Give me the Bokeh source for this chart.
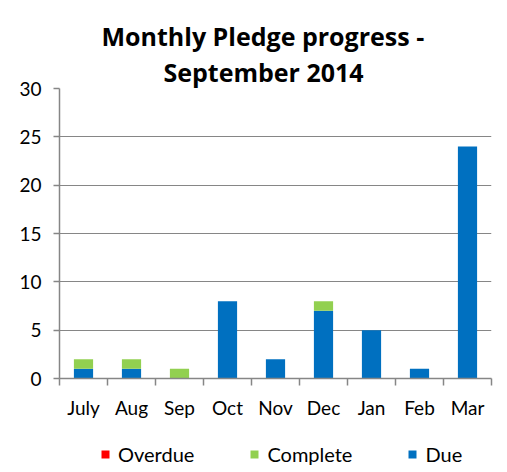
from bokeh.plotting import figure
from bokeh.layouts import column
from bokeh.models import FixedTicker, Legend, LegendItem, Range1d, ColumnDataSource, Title
from bokeh.embed import file_html
from bokeh.resources import INLINE

months = ["July", "Aug", "Sep", "Oct", "Nov", "Dec", "Jan", "Feb", "Mar"]
due = [1, 1, 0, 8, 2, 7, 5, 1, 24]
complete = [1, 1, 1, 0, 0, 1, 0, 0, 0]
overdue = [0, 0, 0, 0, 0, 0, 0, 0, 0]
y_ticks = [0, 5, 10, 15, 20, 25, 30]
series = ["Due", "Complete", "Overdue"]
colors = ["#0070C0", "#92D050", "#FF0000"]
title_lines = ["Monthly Pledge progress -", "September 2014"]

x = list(range(1, len(months) + 1))
src = ColumnDataSource(dict(x=x, Due=due, Complete=complete, Overdue=overdue))

FONT = "Lato"
TFONT = "Open Sans"
GRAY = "#868686"

p = figure(frame_width=432, frame_height=290,
           x_range=Range1d(0.5, len(months) + 0.5), y_range=Range1d(0, 30),
           output_backend="svg", toolbar_location=None,
           min_border_left=59, min_border_right=16, min_border_top=88, min_border_bottom=50)
p.outline_line_color = None
p.title.visible = False

rs = p.vbar_stack(series, x="x", width=0.4, color=colors, line_color=None, source=src)

offsets = [42, 104]
standoffs = [0, 0]
lh = [1.0, 1.05]
for i in (1, 0):
    t = Title(text=title_lines[i], align="left", text_font=TFONT, text_font_style="bold",
              text_font_size="25px", text_color="black", offset=offsets[i],
              standoff=standoffs[i], text_line_height=lh[i])
    p.add_layout(t, "above")

p.yaxis.ticker = FixedTicker(ticks=y_ticks)
p.yaxis.major_tick_out = 6
p.yaxis.major_tick_in = 0
p.yaxis.minor_tick_out = 0
p.yaxis.minor_tick_in = 0
p.yaxis.major_label_standoff = 12
p.yaxis.major_label_text_font = FONT
p.yaxis.major_label_text_font_size = "19px"
p.yaxis.major_label_text_color = "black"
p.yaxis.axis_line_color = GRAY
p.yaxis.axis_line_width = 1.5
p.yaxis.major_tick_line_color = GRAY
p.yaxis.major_tick_line_width = 1.5

p.xaxis.ticker = FixedTicker(ticks=x, minor_ticks=[i - 0.5 for i in range(1, len(months) + 2)])
p.xaxis.major_label_overrides = {i: m for i, m in zip(x, months)}
p.xaxis.major_tick_out = 0
p.xaxis.major_tick_in = 0
p.xaxis.minor_tick_out = 7
p.xaxis.minor_tick_in = 0
p.xaxis.minor_tick_line_color = GRAY
p.xaxis.minor_tick_line_width = 1.5
p.xaxis.major_label_standoff = 10
p.xaxis.major_label_text_font = FONT
p.xaxis.major_label_text_font_size = "19px"
p.xaxis.major_label_text_color = "black"
p.xaxis.axis_line_color = GRAY
p.xaxis.axis_line_width = 1.5

p.xgrid.visible = False
p.ygrid.grid_line_color = GRAY
p.ygrid.grid_line_width = 1.2

# legend strip below the chart: zero-height key bars (same series names and colours)
key_src = ColumnDataSource(dict(x=[-5], Due=[0], Complete=[0], Overdue=[0]))
q = figure(width=507, height=44, x_range=Range1d(0, 1), y_range=Range1d(0, 1),
           x_axis_type=None, y_axis_type=None,
           output_backend="svg", toolbar_location=None,
           min_border_left=0, min_border_right=0, min_border_top=0, min_border_bottom=0)
q.outline_line_color = None
q.title.visible = False
qs = q.vbar_stack(series, x="x", width=0.4, color=colors, line_color=None, source=key_src)

items = [LegendItem(label=series[i], renderers=[qs[i]]) for i in (2, 1, 0)]
legend = Legend(items=items, location=(41, 6), orientation="horizontal",
                glyph_width=10, glyph_height=10, label_standoff=8, spacing=55,
                padding=0, margin=0, border_line_color=None, background_fill_alpha=0,
                label_text_font=FONT, label_text_font_size="20px", label_height=20,
                label_text_color="black")
q.add_layout(legend, "center")

layout = column(p, q, spacing=0)
open("out.html", "w").write(file_html(layout, INLINE))
